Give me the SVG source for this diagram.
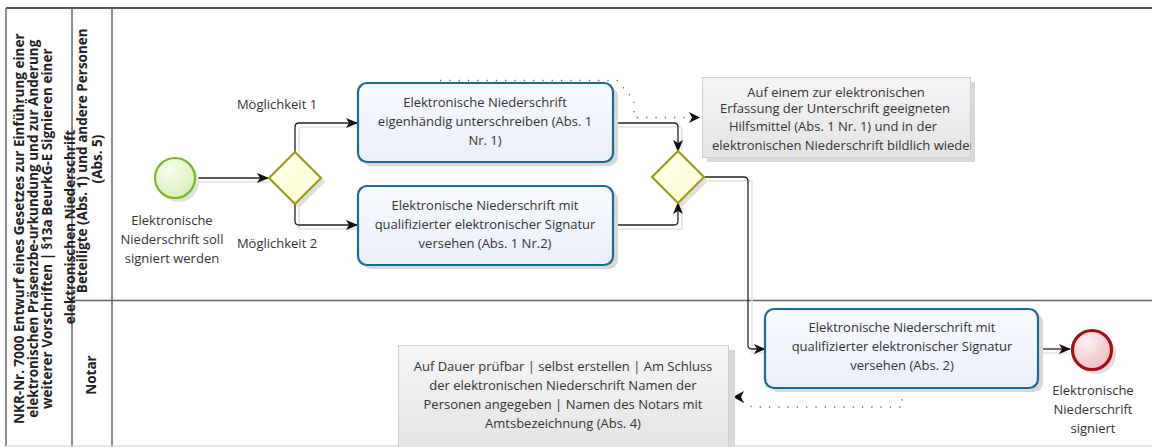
<svg xmlns="http://www.w3.org/2000/svg" width="1152" height="447" viewBox="0 0 1152 447">
<style>
  text { font-family: "Open Sans", "Noto Sans", "Liberation Sans", sans-serif; fill: #333; }
  .t { font-size: 13px; text-anchor: middle; }
  .hdr { font-size: 13.5px; font-weight: bold; text-anchor: middle; fill: #222; }
  .lane { stroke: #666; stroke-width: 1.5; fill: none; }
  .task { fill: url(#gTask); stroke: #1D6A94; stroke-width: 2.2; }
  .shadow { fill: #d8d8d8; stroke: none; }
  .flow { fill: none; stroke: #222; stroke-width: 1.3; }
  .flowsh { fill: none; stroke: #e2e2e2; stroke-width: 1.5; }
  .assoc { fill: none; stroke: #666; stroke-width: 1.3; stroke-dasharray: 1.3 8; }
  .note { fill: url(#gNote); stroke: #d0d0d0; stroke-width: 1; }
  .gw { fill: url(#gGw); stroke: #9E9A1C; stroke-width: 2.2; }
</style>
<defs>
  <linearGradient id="gTask" x1="0" y1="0" x2="0" y2="1">
    <stop offset="0" stop-color="#f8fafe"/>
    <stop offset="1" stop-color="#e9eff9"/>
  </linearGradient>
  <linearGradient id="gNote" x1="0" y1="0" x2="0" y2="1">
    <stop offset="0" stop-color="#f5f5f5"/>
    <stop offset="1" stop-color="#e4e4e4"/>
  </linearGradient>
  <linearGradient id="gGw" x1="0" y1="0" x2="1" y2="1">
    <stop offset="0" stop-color="#ffffe8"/>
    <stop offset="1" stop-color="#fbfbd4"/>
  </linearGradient>
  <radialGradient id="gStart" cx="0.35" cy="0.3" r="0.8">
    <stop offset="0" stop-color="#f8fcef"/>
    <stop offset="1" stop-color="#d6ecb0"/>
  </radialGradient>
  <radialGradient id="gEnd" cx="0.35" cy="0.3" r="0.8">
    <stop offset="0" stop-color="#fdf1f1"/>
    <stop offset="1" stop-color="#eeb9bd"/>
  </radialGradient>
  <marker id="arr" viewBox="0 0 12 10" markerWidth="12" markerHeight="10" refX="11" refY="5" orient="auto" markerUnits="userSpaceOnUse">
    <path d="M0,0 L12,5 L0,10 L3,5 z" fill="#111"/>
  </marker>
  <clipPath id="clipNote1">
    <rect x="702" y="77" width="269" height="81"/>
  </clipPath>
</defs>

<!-- Pool and lanes -->
<g id="pool">
  <rect x="0" y="0" width="1152" height="447" fill="#fff"/>
  <line x1="6" y1="8" x2="1152" y2="8" stroke="#555" stroke-width="2"/>
  <line x1="6" y1="8" x2="6" y2="446" class="lane"/>
  <line x1="72" y1="8" x2="72" y2="446" class="lane"/>
  <line x1="112" y1="8" x2="112" y2="446" class="lane"/>
  <line x1="72" y1="300.5" x2="1152" y2="300.5" class="lane"/>
  <line x1="6" y1="446" x2="1152" y2="446" stroke="#ccc" stroke-width="1"/>
  <text class="hdr" transform="translate(0,227) rotate(-90)">
    <tspan x="0" y="24">NKR-Nr. 7000 Entwurf eines Gesetzes zur Einführung einer</tspan>
    <tspan x="0" y="38">elektronischen Präsenzbe-urkundung und zur Änderung</tspan>
    <tspan x="0" y="52">weiterer Vorschriften | §13a BeurkG-E Signieren einer</tspan>
    <tspan x="0" y="75">elektronischen Niederschrift</tspan>
  </text>
</g>
<g id="lane1">
  <text class="hdr" transform="translate(0,159) rotate(-90)">
    <tspan x="0" y="87">Beteiligte (Abs. 1) und andere Personen</tspan>
    <tspan x="0" y="102">(Abs. 5)</tspan>
  </text>
</g>
<g id="lane2">
  <text class="hdr" transform="translate(0,375) rotate(-90)">
    <tspan x="0" y="96">Notar</tspan>
  </text>
</g>

<!-- Connectors -->
<g id="connectors">
  <path class="flowsh" d="M198,182 H270"/>
  <path class="flowsh" d="M299,152 V131 Q299,127 303,127 H356"/>
  <path class="flowsh" d="M299,206 V229 H356"/>
  <path class="flowsh" d="M616,127 H678 Q682,127 682,131 V150"/>
  <path class="flowsh" d="M616,229 H682 V205"/>
  <path class="flowsh" d="M708,181 H752 V353 H764"/>
  <path class="flowsh" d="M1040,353 H1068"/>

  <path class="flow" d="M196,178 H268" marker-end="url(#arr)"/>
  <path class="flow" d="M295,152 V127 Q295,123 299,123 H357" marker-end="url(#arr)"/>
  <path class="flow" d="M295,204 V221 Q295,225 299,225 H357" marker-end="url(#arr)"/>
  <path class="flow" d="M614,123 H674 Q678,123 678,127 V151" marker-end="url(#arr)"/>
  <path class="flow" d="M614,225 H674 Q678,225 678,221 V203" marker-end="url(#arr)"/>
  <path class="flow" d="M705,177 H744 Q748,177 748,181 V345 Q748,349 752,349 H765" marker-end="url(#arr)"/>
  <path class="flow" d="M1038,349 H1070" marker-end="url(#arr)"/>

  <path class="assoc" d="M440,80.5 H617 L634,100 V117.5 H690"/>
  <path d="M689,112 L700,117.5 L689,123 L692,117.5 z" fill="#111"/>
  <path class="assoc" d="M902,390 V407 H752 L740,400"/>
  <path d="M744,391 L733,397 L744,403 L741,397 z" fill="#111"/>
</g>

<!-- Start event -->
<g id="start">
  <circle cx="179" cy="182" r="20" fill="#e0e0e0"/>
  <circle cx="175" cy="178" r="20" fill="url(#gStart)" stroke="#76B82A" stroke-width="2.2"/>
  <text class="t"><tspan x="172" y="225">Elektronische</tspan><tspan x="172" y="244">Niederschrift soll</tspan><tspan x="172" y="263">signiert werden</tspan></text>
</g>

<!-- Gateway 1 -->
<g id="gateway1">
  <path d="M299,156 L325,182 L299,208 L273,182 z" fill="#e0e0e0"/>
  <path class="gw" d="M295,152 L321,178 L295,204 L269,178 z"/>
  <text class="t" x="277" y="109">Möglichkeit 1</text>
  <text class="t" x="277" y="248">Möglichkeit 2</text>
</g>

<!-- Task 1 -->
<g id="task1">
  <rect class="shadow" x="362" y="87" width="256" height="79" rx="9"/>
  <rect class="task" x="358" y="83" width="255" height="79" rx="9"/>
  <text class="t"><tspan x="485" y="107">Elektronische Niederschrift</tspan><tspan x="485" y="126">eigenhändig unterschreiben (Abs. 1</tspan><tspan x="485" y="145">Nr. 1)</tspan></text>
</g>

<!-- Task 2 -->
<g id="task2">
  <rect class="shadow" x="362" y="190" width="256" height="79" rx="9"/>
  <rect class="task" x="358" y="186" width="255" height="79" rx="9"/>
  <text class="t"><tspan x="485" y="210">Elektronische Niederschrift mit</tspan><tspan x="485" y="229">qualifizierter elektronischer Signatur</tspan><tspan x="485" y="248">versehen (Abs. 1 Nr.2)</tspan></text>
</g>

<!-- Gateway 2 -->
<g id="gateway2">
  <path d="M682,155 L708,181 L682,207 L656,181 z" fill="#e0e0e0"/>
  <path class="gw" d="M678,151 L704,177 L678,203 L652,177 z"/>
</g>

<!-- Annotation 1 -->
<g id="note1">
  <rect x="707" y="82" width="268" height="80" fill="#d9d9d9"/>
  <rect class="note" x="702.5" y="77.5" width="268" height="80"/>
  <text class="t" clip-path="url(#clipNote1)"><tspan x="836" y="97">Auf einem zur elektronischen</tspan><tspan x="835" y="113">Erfassung der Unterschrift geeigneten</tspan><tspan x="833" y="131">Hilfsmittel (Abs. 1 Nr. 1) und in der</tspan><tspan x="712" y="150" text-anchor="start">elektronischen Niederschrift bildlich wiedergegeben</tspan></text>
</g>

<!-- Task 3 -->
<g id="task3">
  <rect class="shadow" x="769" y="313" width="274" height="79" rx="9"/>
  <rect class="task" x="765" y="309" width="273" height="79" rx="9"/>
  <text class="t"><tspan x="902" y="332">Elektronische Niederschrift mit</tspan><tspan x="902" y="351">qualifizierter elektronischer Signatur</tspan><tspan x="902" y="370">versehen (Abs. 2)</tspan></text>
</g>

<!-- End event -->
<g id="end">
  <circle cx="1096" cy="354" r="20" fill="#dcdcdc"/>
  <circle cx="1092" cy="350" r="19.5" fill="url(#gEnd)" stroke="#A10F14" stroke-width="3.2"/>
  <text class="t"><tspan x="1093" y="395">Elektronische</tspan><tspan x="1093" y="414">Niederschrift</tspan><tspan x="1093" y="433">signiert</tspan></text>
</g>

<!-- Annotation 2 -->
<g id="note2">
  <rect x="403" y="350" width="332" height="100" fill="#d9d9d9"/>
  <rect class="note" x="398.5" y="345.5" width="330" height="105"/>
  <text class="t"><tspan x="563" y="371">Auf Dauer prüfbar | selbst erstellen | Am Schluss</tspan><tspan x="563" y="390">der elektronischen Niederschrift Namen der</tspan><tspan x="563" y="409">Personen angegeben | Namen des Notars mit</tspan><tspan x="563" y="428">Amtsbezeichnung (Abs. 4)</tspan></text>
</g>
</svg>
